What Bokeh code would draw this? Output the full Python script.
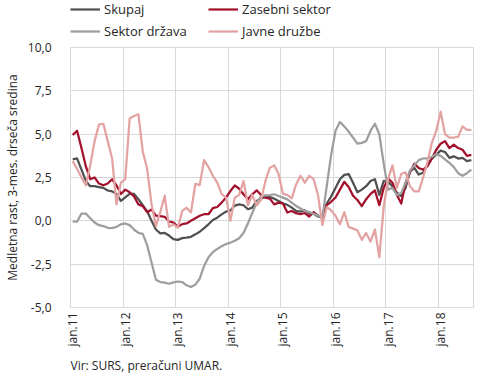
import numpy as np
from bokeh.plotting import figure
from bokeh.layouts import column
from bokeh.models import (Range1d, FixedTicker, CustomJSTickFormatter, Legend,
                          LegendItem, Label)
from bokeh.embed import file_html
from bokeh.resources import INLINE

FONT = "Open Sans"

# monthly observations, jan 2011 ... aug 2018 (index of month)
months = list(range(92))
tick_labels = ["jan.11", "jan.12", "jan.13", "jan.14", "jan.15", "jan.16", "jan.17", "jan.18"]
y_ticks = [-5.0, -2.5, 0.0, 2.5, 5.0, 7.5, 10.0]

skupaj = [3.55, 3.6, 2.95, 2.3, 2.0, 2.0, 1.95, 1.9, 1.75, 1.7, 1.55, 1.15,
          1.35, 1.55, 1.55, 1.25, 0.9, 0.55, 0.0, -0.5, -0.72, -0.7, -0.85, -1.05,
          -1.1, -1.0, -0.97, -0.92, -0.78, -0.63, -0.42, -0.2, 0.05, 0.18, 0.37, 0.53,
          0.6, 0.88, 0.95, 0.9, 0.67, 0.76, 1.15, 1.3, 1.37, 1.37, 1.28, 1.15,
          1.0, 0.92, 0.76, 0.57, 0.53, 0.6, 0.42, 0.4, 0.25, 0.2, 1.0, 1.4,
          1.9, 2.4, 2.65, 2.7, 2.2, 1.65, 1.8, 2.0, 2.3, 2.4, 1.5, 2.3,
          2.25, 2.0, 1.62, 1.43, 1.91, 2.86, 3.05, 2.67, 2.77, 3.24, 3.59, 3.82,
          4.05, 3.97, 3.63, 3.72, 3.59, 3.63, 3.44, 3.5]

zasebni = [4.95, 5.2, 4.2, 3.15, 2.4, 2.5, 2.15, 2.05, 2.15, 2.4, 2.05, 1.55,
           1.8, 1.65, 1.4, 0.95, 0.85, 0.5, 0.65, 0.3, 0.27, 0.23, -0.04, -0.1,
           -0.34, -0.19, -0.15, 0.0, 0.15, 0.29, 0.38, 0.38, 0.73, 0.8, 1.05, 1.34,
           1.72, 2.04, 1.85, 1.53, 1.24, 1.53, 1.76, 1.49, 1.34, 1.28, 0.95, 1.05,
           1.0, 0.48, 0.57, 0.44, 0.38, 0.45, 0.25, 0.5, 0.3, 0.2, 0.9, 1.1,
           1.35, 1.8, 2.25, 1.95, 1.45, 1.2, 0.85, 1.25, 1.55, 1.75, 0.9, 1.9,
           2.45, 2.2, 1.5, 1.0, 2.2, 2.8, 3.3, 3.05, 2.95, 3.15, 3.6, 4.1,
           4.45, 4.6, 4.2, 4.4, 4.2, 4.1, 3.75, 3.8]

drzava = [-0.05, -0.05, 0.42, 0.42, 0.15, -0.1, -0.25, -0.3, -0.4, -0.42, -0.35, -0.2,
          -0.15, -0.25, -0.5, -0.7, -0.75, -1.4, -2.4, -3.4, -3.53, -3.57, -3.63, -3.55,
          -3.5, -3.53, -3.72, -3.82, -3.68, -3.34, -2.6, -2.1, -1.81, -1.62, -1.47, -1.34,
          -1.26, -1.15, -1.0, -0.7, -0.15, 0.45, 1.05, 1.41, 1.47, 1.49, 1.53, 1.43,
          1.34, 1.24, 1.05, 0.86, 0.71, 0.57, 0.5, 0.4, 0.3, 0.2, 2.0, 3.8,
          5.2, 5.7, 5.45, 5.15, 4.8, 4.45, 4.5, 4.6, 5.2, 5.6, 5.0, 3.3,
          1.8, 1.9, 1.5, 1.6, 2.2, 2.9, 3.2, 3.5, 3.6, 3.6, 3.7, 3.85,
          3.75, 3.55, 3.35, 3.1, 2.75, 2.6, 2.75, 2.95]

javne = [3.45, 3.0, 2.5, 2.05, 3.2, 4.6, 5.55, 5.6, 4.6, 3.6, 0.95, 2.2,
         2.4, 5.9, 6.05, 6.15, 4.0, 3.0, 0.95, -0.3, 0.5, 1.45, -0.35, -0.2,
         -0.4, 0.57, 0.76, 0.48, 2.14, 2.06, 3.5, 3.1, 2.6, 2.2, 1.55, 1.34,
         0.0, 1.34, 1.5, 2.3, 0.9, 1.5, 0.9, 1.2, 2.3, 3.05, 3.2, 2.7,
         1.55, 1.5, 1.3, 2.1, 2.6, 2.2, 2.6, 2.4, 1.5, -0.25, 0.8, 0.6,
         0.3, -0.2, 0.5, -0.35, -0.45, -0.55, -1.1, -0.7, -1.2, -0.5, -2.1, 0.8,
         2.4, 3.2, 1.9, 2.7, 2.8, 2.0, 1.7, 1.7, 2.5, 3.4, 4.5, 5.2,
         6.3, 5.0, 4.8, 4.8, 4.85, 5.45, 5.25, 5.25]

series_names = ["Skupaj", "Zasebni sektor", "Sektor država", "Javne družbe"]
series_colors = ["#505050", "#a3102c", "#9e9e9e", "#e3a3a3"]
series_values = [skupaj, zasebni, drzava, javne]
source_text = "Vir: SURS, preračuni UMAR."

tick_pos = months[::12]
grid_x = [t - 0.5 for t in tick_pos] + [months[-1] + 0.5]

# ---------------- main chart ----------------
p = figure(width=474, height=317, output_backend="svg", toolbar_location=None,
           x_range=Range1d(months[0] - 0.5, months[-1] + 0.5),
           y_range=Range1d(y_ticks[0], y_ticks[-1]),
           min_border_left=60, min_border_right=1, min_border_top=7,
           min_border_bottom=50)
p.outline_line_color = "#d9d9d9"
p.outline_line_width = 1

for vals, col in zip(series_values, series_colors):
    p.line(months, vals, line_color=col, line_width=2.25, line_join="round")

p.xaxis.ticker = FixedTicker(ticks=tick_pos)
p.xaxis.major_label_overrides = {t: l for t, l in zip(tick_pos, tick_labels)}
p.xaxis.major_label_orientation = np.pi / 2
p.xaxis.axis_line_color = None
p.xaxis.major_tick_line_color = None
p.xaxis.minor_tick_line_color = None
p.xaxis.major_tick_out = 0
p.xaxis.major_tick_in = 0
p.xaxis.minor_tick_out = 0
p.xaxis.major_label_standoff = 5
p.xaxis.major_label_text_font = FONT
p.xaxis.major_label_text_font_size = "12px"
p.xaxis.major_label_text_color = "#262626"

p.yaxis.ticker = FixedTicker(ticks=y_ticks)
p.yaxis.formatter = CustomJSTickFormatter(code="return tick.toFixed(1).replace('.', ',');")
p.yaxis.axis_line_color = None
p.yaxis.major_tick_line_color = None
p.yaxis.minor_tick_line_color = None
p.yaxis.major_label_standoff = 13
p.yaxis.major_label_text_font = FONT
p.yaxis.major_label_text_font_size = "12px"
p.yaxis.major_label_text_color = "#262626"
p.yaxis.axis_label = "Medletna rast, 3-mes. drseča sredina"
p.yaxis.axis_label_text_font = FONT
p.yaxis.axis_label_text_font_size = "12px"
p.yaxis.axis_label_text_font_style = "normal"
p.yaxis.axis_label_text_color = "#262626"
p.yaxis.axis_label_standoff = 4

p.xgrid.ticker = FixedTicker(ticks=grid_x)
p.xgrid.grid_line_color = "#d9d9d9"
p.xgrid.grid_line_width = 1
p.ygrid.ticker = FixedTicker(ticks=y_ticks)
p.ygrid.grid_line_color = "#d9d9d9"
p.ygrid.grid_line_width = 1

# ---------------- legend strip above the chart ----------------
lg = figure(width=474, height=40, output_backend="svg", toolbar_location=None,
            x_axis_type=None, y_axis_type=None,
            x_range=p.x_range, y_range=p.y_range,
            min_border_left=60, min_border_right=1, min_border_top=0,
            min_border_bottom=0)
lg.outline_line_color = None
lg.grid.visible = False

leg_items = []
for name, vals, col in zip(series_names, series_values, series_colors):
    r = lg.line(months, vals, line_color=col, line_width=2.25, visible=False)
    leg_items.append(LegendItem(label=name, renderers=[r]))

legend = Legend(items=leg_items, location="top_left", orientation="horizontal", ncols=2,
                glyph_width=30, glyph_height=14, label_height=14, label_width=100,
                label_standoff=4, spacing=4, padding=0, margin=0,
                border_line_color=None, background_fill_alpha=0,
                inactive_fill_alpha=0,
                label_text_font=FONT, label_text_font_size="13px",
                label_text_color="#262626")
lg.add_layout(legend, "center")

# ---------------- source strip below the chart ----------------
sf = figure(width=474, height=16, output_backend="svg", toolbar_location=None,
            x_axis_type=None, y_axis_type=None,
            x_range=Range1d(0, 1), y_range=Range1d(0, 1),
            min_border_left=60, min_border_right=1, min_border_top=0,
            min_border_bottom=0)
sf.outline_line_color = None
sf.grid.visible = False
sf.add_layout(Label(x=0, y=8, x_units="screen", y_units="screen", text=source_text,
                    text_font=FONT, text_font_size="12px", text_color="#262626",
                    text_baseline="middle"))

layout = column(lg, p, sf, spacing=0)
open("out.html", "w").write(file_html(layout, INLINE))
